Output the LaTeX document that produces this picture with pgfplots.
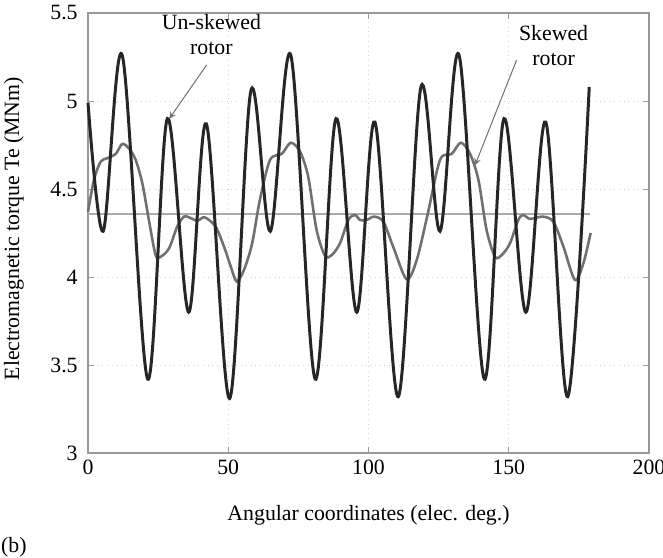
\documentclass[border=0pt]{standalone}
\usepackage{pgfplots}
\pgfplotsset{compat=1.18}
\usepackage{fontspec}
\setmainfont{Liberation Serif}
\definecolor{unsk}{HTML}{262626}
\definecolor{skw}{HTML}{707070}
\definecolor{meanl}{HTML}{ABABAB}
\definecolor{gridc}{HTML}{D4D4D4}
\definecolor{boxc}{HTML}{999999}
\begin{document}
\begin{tikzpicture}
\path[use as bounding box] (-44bp,-52.5bp) rectangle (287.5bp,226.5bp);
\begin{axis}[
  at={(0,0)}, anchor=south west,
  width=280.5bp, height=220bp, scale only axis,
  xmin=0, xmax=200, ymin=3, ymax=5.5,
  xtick={0,50,100,150,200},
  ytick={3,3.5,4,4.5,5,5.5},
  yticklabels={3,3.5,4,4.5,5,5.5},
  xticklabels={0,50,100,150,200},
  grid=major,
  major grid style={gridc, dotted, line width=0.5pt},
  axis line style={boxc, line width=0.6pt},
  tick align=inside, tick pos=both,
  major tick length=3bp,
  tick style={boxc, line width=0.5pt},
  tick label style={inner sep=0pt, font=\fontsize{10.9bp}{12bp}\selectfont},
  yticklabel style={xshift=-5bp},
  xticklabel style={yshift=-3.5bp},
  /pgf/number format/assume math mode=true,
  label style={font=\fontsize{10.9bp}{12bp}\selectfont},
  xlabel={Angular coordinates (elec. deg.)},
  ylabel={Electromagnetic torque Te (MNm)},
  xlabel style={at={(axis description cs:0.5,-0.141)}, anchor=center},
  ylabel style={at={(axis description cs:-0.132,0.51)}, anchor=center},
  clip=false,
]
\addplot[meanl, line width=0.9pt] coordinates {(0,4.36) (179,4.36)};
\addplot[skw, line width=1.3pt, smooth, tension=0.5] coordinates {
(0,4.37) (2.1,4.55) (4.5,4.655) (6.9,4.675) (9.9,4.70) (12.2,4.756) (14.6,4.73)
(17.0,4.665) (19.4,4.53) (21.7,4.324) (24.1,4.125) (25.9,4.115) (28.9,4.163)
(31.8,4.286) (34.2,4.343) (36.0,4.339) (39.0,4.32) (41.6,4.339) (45.5,4.286)
(48.5,4.172) (50.9,4.059) (53.0,3.975) (55.6,4.04) (58.5,4.19) (61.3,4.44)
(64.9,4.665) (69.1,4.70) (72.3,4.763) (75.6,4.712) (78.5,4.57) (81.5,4.267)
(84.5,4.12) (86.9,4.125) (89.8,4.19) (92.8,4.324) (95.2,4.352) (97.0,4.324)
(99.4,4.324) (102.0,4.343) (105.3,4.314) (108.8,4.172) (113.6,3.987) (117.2,4.097)
(121.0,4.35) (125.5,4.665) (129.7,4.70) (132.9,4.763) (136.2,4.70) (139.2,4.551)
(142.1,4.267) (145.1,4.115) (147.5,4.125) (150.4,4.19) (153.4,4.324) (155.2,4.352)
(157.6,4.33) (162.1,4.343) (165.9,4.314) (169.5,4.172) (173.6,3.983) (176.6,4.078)
(179.2,4.25)
};
\addplot[unsk, line width=1.5pt, smooth, tension=0.55] coordinates {
(0,4.99) (5.4,4.26) (12.2,5.26) (21.3,3.42) (28.3,4.90) (35.9,3.80) (42.2,4.87)
(50.5,3.31) (58.1,5.06) (65.0,4.26) (72.3,5.26) (81.0,3.42) (88.4,4.90)
(95.8,3.80) (102.3,4.88) (110.6,3.32) (118.7,5.08) (125.5,4.26) (132.3,5.26)
(141.3,3.42) (148.3,4.90) (156.1,3.80) (163.2,4.88) (171.0,3.32) (178.7,5.08)
};
\node[align=center, font=\fontsize{10.9bp}{12.5bp}\selectfont, inner sep=0pt] at (axis cs:44,5.378) {Un-skewed\\rotor};
\node[align=center, font=\fontsize{10.9bp}{12.5bp}\selectfont, inner sep=0pt] at (axis cs:166,5.315) {Skewed\\rotor};
\draw[skw, line width=0.5pt, -stealth] (axis cs:42.3,5.205) -- (axis cs:29.0,4.90);
\draw[skw, line width=0.5pt, -stealth] (axis cs:152.8,5.233) -- (axis cs:138,4.636);
\node[font=\fontsize{10.9bp}{12bp}\selectfont, inner sep=0pt] at (axis description cs:-0.132,-0.2136) {(b)};
\end{axis}
\end{tikzpicture}
\end{document}
